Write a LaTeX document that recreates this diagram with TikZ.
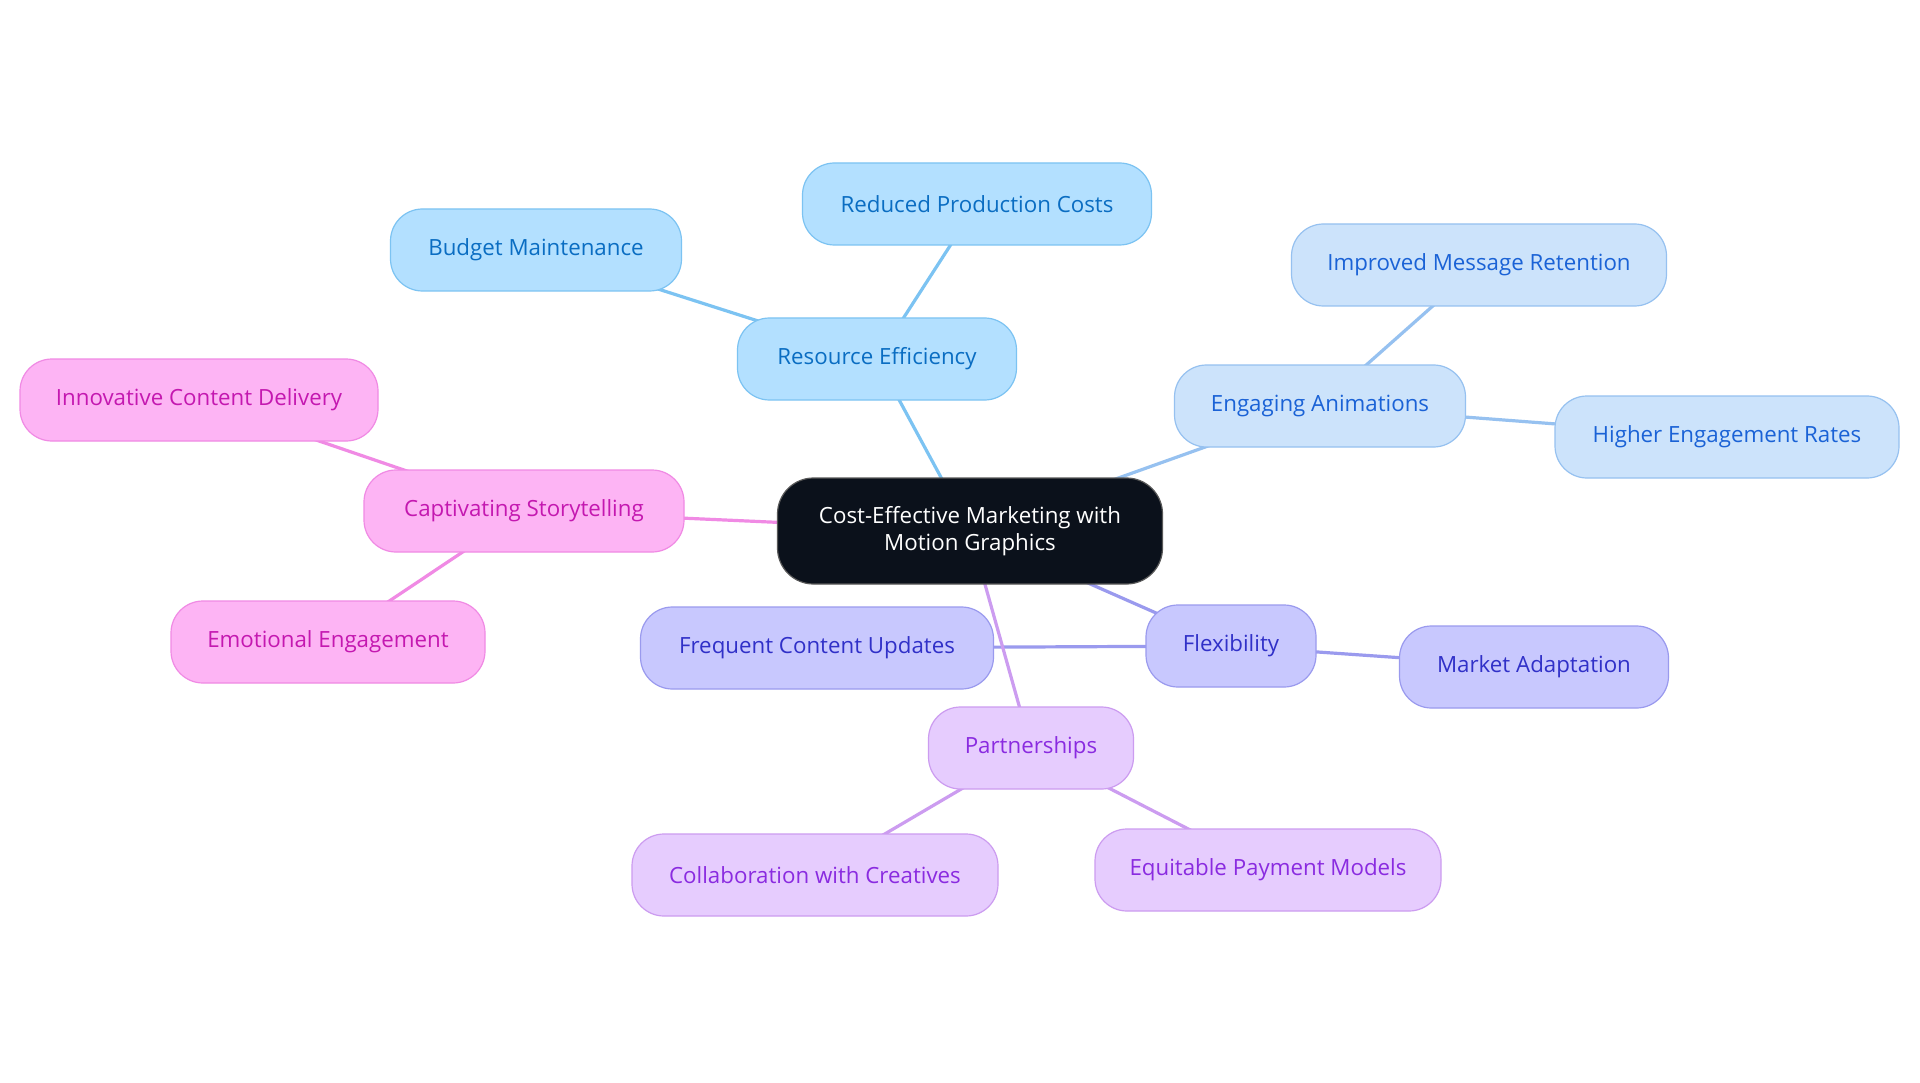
\documentclass[tikz,border=0pt]{standalone}
\usepackage{fontspec}
\setmainfont{Open Sans}
\usetikzlibrary{backgrounds}
\definecolor{cA}{HTML}{B3E0FF}\definecolor{bA}{HTML}{7CC3F2}\definecolor{tA}{HTML}{0A6DC2}
\definecolor{cB}{HTML}{CCE3FB}\definecolor{bB}{HTML}{96C1F0}\definecolor{tB}{HTML}{1A62D6}
\definecolor{cC}{HTML}{FDB4F4}\definecolor{bC}{HTML}{F08AE4}\definecolor{tC}{HTML}{C418B0}
\definecolor{cD}{HTML}{C8C8FE}\definecolor{bD}{HTML}{9A9AEE}\definecolor{tD}{HTML}{3030C8}
\definecolor{cE}{HTML}{E6CCFE}\definecolor{bE}{HTML}{CC9CF0}\definecolor{tE}{HTML}{8A2BE0}
\definecolor{cRoot}{HTML}{0B111B}
\tikzset{
  base/.style={rounded corners=32pt, minimum height=82pt, inner sep=0pt, line width=1.2pt,
    font=\fontsize{22.3}{27}\selectfont, align=center},
  nA/.style={base, fill=cA, draw=bA, text=tA},
  nB/.style={base, fill=cB, draw=bB, text=tB},
  nC/.style={base, fill=cC, draw=bC, text=tC},
  nD/.style={base, fill=cD, draw=bD, text=tD},
  nE/.style={base, fill=cE, draw=bE, text=tE},
  rootn/.style={base, fill=cRoot, draw=gray!70!black, text=white, minimum height=106pt, rounded corners=36pt},
  eA/.style={draw=bA, line width=3.2pt},
  eB/.style={draw=bB, line width=3.2pt},
  eC/.style={draw=bC, line width=3.2pt},
  eD/.style={draw=bD, line width=3.2pt},
  eE/.style={draw=bE, line width=3.2pt},
}
\begin{document}
\begin{tikzpicture}[x=1pt,y=-1pt]
\useasboundingbox (0,0) rectangle (1920,1083);
\node[rootn, minimum width=385pt] (root) at (970,531) {Cost-Effective Marketing with\\Motion Graphics};
\node[nA, minimum width=279pt] (res) at (877,359) {Resource Efficiency};
\node[nA, minimum width=349pt] (red) at (977,204) {Reduced Production Costs};
\node[nA, minimum width=291pt] (bud) at (536,250) {Budget Maintenance};
\node[nB, minimum width=291pt] (eng) at (1320,406) {Engaging Animations};
\node[nB, minimum width=375pt] (imp) at (1479,265) {Improved Message Retention};
\node[nB, minimum width=344pt] (hig) at (1727,437) {Higher Engagement Rates};
\node[nC, minimum width=320pt] (cap) at (524,511) {Captivating Storytelling};
\node[nC, minimum width=358pt] (inn) at (199,400) {Innovative Content Delivery};
\node[nC, minimum width=314pt] (emo) at (328,642) {Emotional Engagement};
\node[nD, minimum width=170pt] (fle) at (1231,646) {Flexibility};
\node[nD, minimum width=353pt] (fcu) at (817,648) {Frequent Content Updates};
\node[nD, minimum width=269pt] (mar) at (1534,667) {Market Adaptation};
\node[nE, minimum width=205pt] (par) at (1031,748) {Partnerships};
\node[nE, minimum width=366pt] (col) at (815,875) {Collaboration with Creatives};
\node[nE, minimum width=346pt] (equ) at (1268,870) {Equitable Payment Models};
\begin{scope}[on background layer]
\fill[white] (0,0) rectangle (1920,1083);
\draw[eA] (root.center) -- (res.center);
\draw[eA] (res.center) -- (red.center);
\draw[eA] (res.center) -- (bud.center);
\draw[eB] (root.center) -- (eng.center);
\draw[eB] (eng.center) -- (imp.center);
\draw[eB] (eng.center) -- (hig.center);
\draw[eC] (root.center) -- (cap.center);
\draw[eC] (cap.center) -- (inn.center);
\draw[eC] (cap.center) -- (emo.center);
\draw[eD] (root.center) -- (fle.center);
\draw[eD] (fle.center) -- (fcu.center);
\draw[eD] (fle.center) -- (mar.center);
\draw[eE] (root.center) -- (par.center);
\draw[eE] (par.center) -- (col.center);
\draw[eE] (par.center) -- (equ.center);
\end{scope}
\end{tikzpicture}
\end{document}
